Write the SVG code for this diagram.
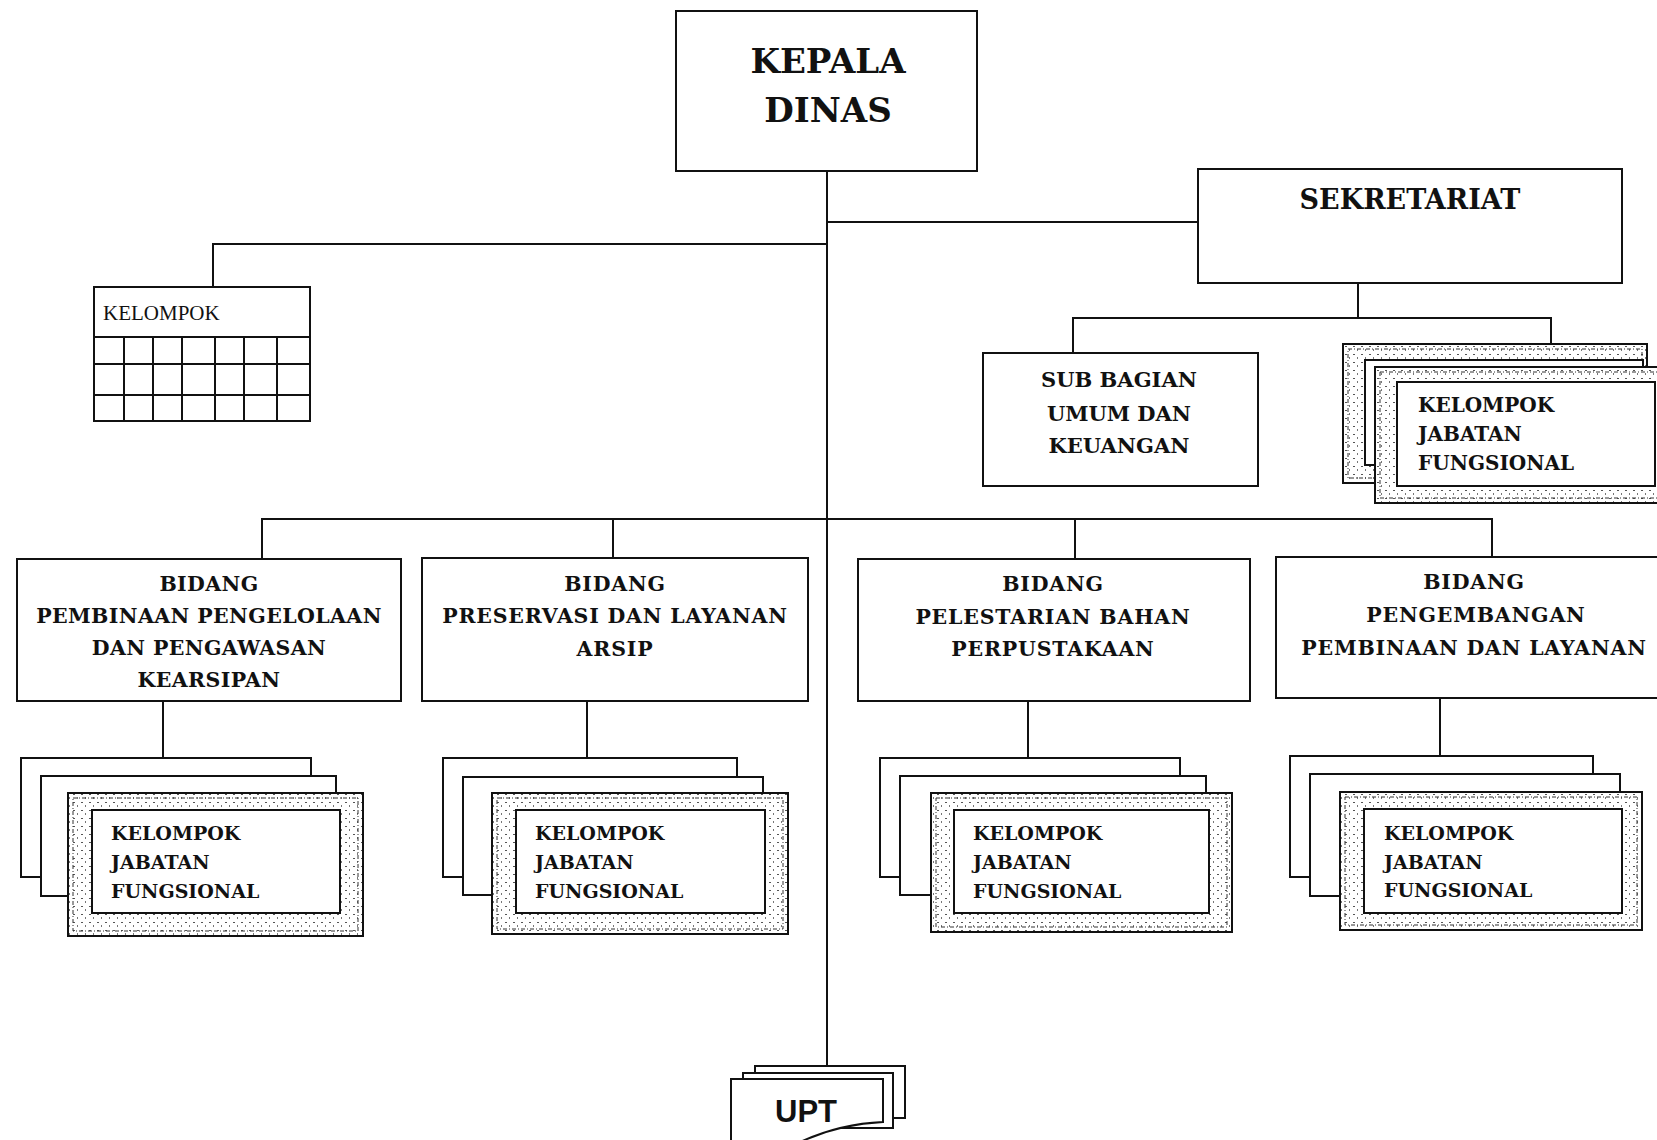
<svg xmlns="http://www.w3.org/2000/svg" width="1657" height="1140" viewBox="0 0 1657 1140">
  <style>
    .box { fill: #fff; stroke: #111; stroke-width: 2; }
    .ln { fill: none; stroke: #111; stroke-width: 2; }
    .band { fill: url(#hatch); stroke: #111; stroke-width: 2; }
    .dash { fill: none; stroke: #333; stroke-width: 1; stroke-dasharray: 4 2 1 2; }
    .t { font-family: "DejaVu Serif", "Liberation Serif", serif; font-weight: bold; fill: #111; }
    .c { text-anchor: middle; }
    .bd { font-size: 20.5px; letter-spacing: 0.8px; }
    .bd1 { font-size: 20.5px; letter-spacing: 0.4px; }
    .jf { font-size: 19px; }
    .reg { font-family: "Liberation Serif", "Times New Roman", serif; font-weight: normal; fill: #111; }
    .sans { font-family: "Liberation Sans", Arial, sans-serif; font-weight: bold; fill: #111; }
  </style>
  <defs>
    <!-- speckled texture used for the decorative frames -->
    <pattern id="hatch" width="8" height="8" patternUnits="userSpaceOnUse">
      <rect width="8" height="8" fill="#fff"/>
      <rect x="1" y="2" width="2" height="1" fill="#555"/>
      <rect x="5" y="5" width="1" height="2" fill="#777"/>
    </pattern>
  </defs>

  <!-- connectors -->
  <g id="connectors">
    <!-- main trunk from Kepala Dinas down to UPT -->
    <path class="ln" d="M827,171 V1066"/>
    <!-- to Sekretariat -->
    <path class="ln" d="M827,222 H1198"/>
    <!-- to Kelompok -->
    <path class="ln" d="M827,244 H213 V287"/>
    <!-- Sekretariat sub-units -->
    <path class="ln" d="M1358,283 V318"/>
    <path class="ln" d="M1073,353 V318 H1551 V344"/>
    <!-- Bidang bus -->
    <path class="ln" d="M262,559 V519 H1492 V557"/>
    <path class="ln" d="M613,519 V558"/>
    <path class="ln" d="M1075,519 V559"/>
    <!-- Bidang to Kelompok Jabatan Fungsional -->
    <path class="ln" d="M163,701 V758"/>
    <path class="ln" d="M587,701 V758"/>
    <path class="ln" d="M1028,701 V758"/>
    <path class="ln" d="M1440,698 V756"/>
  </g>

  <!-- Kepala Dinas -->
  <g id="kepala-dinas">
    <rect class="box" x="676" y="11" width="301" height="160"/>
    <text class="t c" x="828" y="73" font-size="34">KEPALA</text>
    <text class="t c" x="828" y="122" font-size="34">DINAS</text>
  </g>

  <!-- Sekretariat -->
  <g id="sekretariat">
    <rect class="box" x="1198" y="169" width="424" height="114"/>
    <text class="t c" x="1410" y="209" font-size="27">SEKRETARIAT</text>
  </g>

  <!-- Kelompok grid -->
  <g id="kelompok">
    <rect class="box" x="94" y="287" width="216" height="134"/>
    <path class="ln" d="M94,337 H310 M94,364 H310 M94,395 H310"/>
    <path class="ln" d="M124,337 V421 M153,337 V421 M182,337 V421 M215,337 V421 M244,337 V421 M277,337 V421"/>
    <text class="reg" x="103" y="320" font-size="21">KELOMPOK</text>
  </g>

  <!-- Sub Bagian Umum dan Keuangan -->
  <g id="subbag-umum">
    <rect class="box" x="983" y="353" width="275" height="133"/>
    <text class="t c" x="1119" y="387" font-size="21">SUB BAGIAN</text>
    <text class="t c" x="1119" y="421" font-size="21">UMUM DAN</text>
    <text class="t c" x="1119" y="453" font-size="21">KEUANGAN</text>
  </g>

  <!-- Kelompok Jabatan Fungsional under Sekretariat -->
  <g id="jf-sekretariat">
    <rect class="band" x="1343" y="344" width="304" height="139"/>
    <rect class="dash" x="1348" y="349" width="294" height="129"/>
    <rect class="box" x="1365" y="360" width="278" height="105"/>
    <rect class="band" x="1375" y="367" width="300" height="136"/>
    <rect class="dash" x="1380" y="372" width="290" height="126"/>
    <rect class="box" x="1397" y="382" width="258" height="104"/>
    <text class="t" x="1418" y="412" font-size="20">KELOMPOK</text>
    <text class="t" x="1418" y="441" font-size="20">JABATAN</text>
    <text class="t" x="1418" y="470" font-size="20">FUNGSIONAL</text>
  </g>

  <!-- Bidang 1 -->
  <g id="bidang-pembinaan">
    <rect class="box" x="17" y="559" width="384" height="142"/>
    <text class="t c bd1" x="209" y="591">BIDANG</text>
    <text class="t c bd1" x="209" y="623">PEMBINAAN PENGELOLAAN</text>
    <text class="t c bd1" x="209" y="655">DAN PENGAWASAN</text>
    <text class="t c bd1" x="209" y="687">KEARSIPAN</text>
  </g>

  <!-- Bidang 2 -->
  <g id="bidang-preservasi">
    <rect class="box" x="422" y="558" width="386" height="143"/>
    <text class="t c bd" x="615" y="591">BIDANG</text>
    <text class="t c bd" x="615" y="623">PRESERVASI DAN LAYANAN</text>
    <text class="t c bd" x="615" y="656">ARSIP</text>
  </g>

  <!-- Bidang 3 -->
  <g id="bidang-pelestarian">
    <rect class="box" x="858" y="559" width="392" height="142"/>
    <text class="t c bd" x="1053" y="591">BIDANG</text>
    <text class="t c bd" x="1053" y="624">PELESTARIAN BAHAN</text>
    <text class="t c bd" x="1053" y="656">PERPUSTAKAAN</text>
  </g>

  <!-- Bidang 4 -->
  <g id="bidang-pengembangan">
    <rect class="box" x="1276" y="557" width="400" height="141"/>
    <text class="t c bd" x="1474" y="589">BIDANG</text>
    <text class="t c bd" x="1476" y="622">PENGEMBANGAN</text>
    <text class="t c bd" x="1474" y="655">PEMBINAAN DAN LAYANAN</text>
  </g>

  <!-- Kelompok Jabatan Fungsional stacks under each Bidang -->
  <g id="jf-bidang-1">
    <rect class="box" x="21" y="758" width="290" height="119"/>
    <rect class="box" x="41" y="776" width="295" height="120"/>
    <rect class="band" x="68" y="793" width="295" height="143"/>
    <rect class="dash" x="73" y="798" width="285" height="133"/>
    <rect class="box" x="92" y="810" width="248" height="103"/>
    <text class="t jf" x="111" y="840">KELOMPOK</text>
    <text class="t jf" x="111" y="869">JABATAN</text>
    <text class="t jf" x="111" y="898">FUNGSIONAL</text>
  </g>

  <g id="jf-bidang-2">
    <rect class="box" x="443" y="758" width="294" height="119"/>
    <rect class="box" x="463" y="777" width="300" height="118"/>
    <rect class="band" x="492" y="793" width="296" height="141"/>
    <rect class="dash" x="497" y="798" width="286" height="131"/>
    <rect class="box" x="516" y="810" width="249" height="103"/>
    <text class="t jf" x="535" y="840">KELOMPOK</text>
    <text class="t jf" x="535" y="869">JABATAN</text>
    <text class="t jf" x="535" y="898">FUNGSIONAL</text>
  </g>

  <g id="jf-bidang-3">
    <rect class="box" x="880" y="758" width="300" height="119"/>
    <rect class="box" x="900" y="776" width="306" height="119"/>
    <rect class="band" x="931" y="793" width="301" height="139"/>
    <rect class="dash" x="936" y="798" width="291" height="129"/>
    <rect class="box" x="954" y="810" width="255" height="103"/>
    <text class="t jf" x="973" y="840">KELOMPOK</text>
    <text class="t jf" x="973" y="869">JABATAN</text>
    <text class="t jf" x="973" y="898">FUNGSIONAL</text>
  </g>

  <g id="jf-bidang-4">
    <rect class="box" x="1290" y="756" width="303" height="121"/>
    <rect class="box" x="1310" y="774" width="310" height="122"/>
    <rect class="band" x="1340" y="792" width="302" height="138"/>
    <rect class="dash" x="1345" y="797" width="292" height="128"/>
    <rect class="box" x="1364" y="809" width="258" height="104"/>
    <text class="t jf" x="1384" y="840">KELOMPOK</text>
    <text class="t jf" x="1384" y="869">JABATAN</text>
    <text class="t jf" x="1384" y="897">FUNGSIONAL</text>
  </g>

  <!-- UPT -->
  <g id="upt">
    <rect class="box" x="755" y="1066" width="150" height="52"/>
    <rect class="box" x="743" y="1073" width="150" height="55"/>
    <path class="box" d="M731,1079 H883 V1122 Q835,1124 792,1146 H731 Z"/>
    <text class="sans c" x="806" y="1122" font-size="31">UPT</text>
  </g>
</svg>
